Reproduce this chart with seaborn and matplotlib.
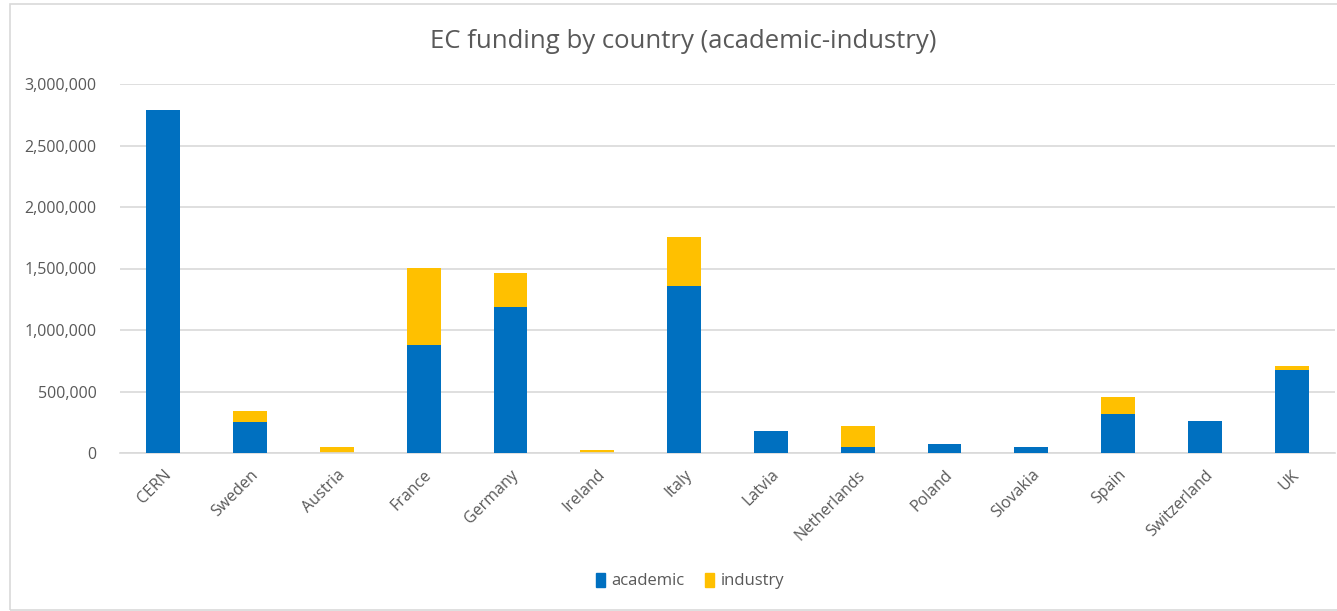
import matplotlib
matplotlib.use("Agg")
import matplotlib.pyplot as plt
import seaborn as sns
import pandas as pd
from matplotlib.patches import Patch, Rectangle
from matplotlib.ticker import FuncFormatter

countries = ["CERN", "Sweden", "Austria", "France", "Germany", "Ireland", "Italy",
             "Latvia", "Netherlands", "Poland", "Slovakia", "Spain", "Switzerland", "UK"]
academic = [2790000, 255000, 0, 875000, 1187000, 0, 1355000,
            179000, 46000, 70000, 51000, 320000, 261000, 673000]
industry = [0, 90000, 46000, 633000, 277000, 27000, 400000,
            0, 176000, 0, 0, 139000, 0, 36000]

BLUE = "#0070C0"
YELLOW = "#FFC000"
GRAY = "#595959"

df = pd.DataFrame({"country": countries, "academic": academic, "industry": industry})
df["total"] = df["academic"] + df["industry"]

sns.set_theme(style="white")
plt.rcParams["font.family"] = ["Open Sans", "DejaVu Sans"]

fig = plt.figure(figsize=(13.37, 6.11), dpi=100)
ax = fig.add_axes([120 / 1337, 1 - 453 / 611, 1215 / 1337, 369 / 611])

sns.barplot(data=df, x="country", y="total", color=YELLOW, width=0.39,
            saturation=1, ax=ax, zorder=2, linewidth=0)
sns.barplot(data=df, x="country", y="academic", color=BLUE, width=0.39,
            saturation=1, ax=ax, zorder=3, linewidth=0)

ax.set_xlim(-0.5, len(countries) - 0.5)
ax.set_ylim(0, 3000000)
ax.set_yticks(range(0, 3000001, 500000))
ax.yaxis.set_major_formatter(FuncFormatter(lambda v, p: f"{int(v):,}"))
ax.grid(axis="y", color="#D9D9D9", linewidth=1.2, zorder=0)
ax.set_axisbelow(True)
for s in ["top", "right", "left"]:
    ax.spines[s].set_visible(False)
ax.spines["bottom"].set_color("#D9D9D9")
ax.spines["bottom"].set_linewidth(1.2)
ax.set_xlabel("")
ax.set_ylabel("")
ax.tick_params(axis="both", length=0, colors=GRAY, labelsize=11.5)
ax.tick_params(axis="y", pad=17)
plt.setp(ax.get_xticklabels(), rotation=45, ha="right", rotation_mode="anchor")
ax.tick_params(axis="x", pad=10)

fig.text(683 / 1337, 1 - 42 / 611, "EC funding by country (academic-industry)",
         ha="center", va="center", fontsize=18.5, color=GRAY)

handles = [Patch(color=BLUE, label="academic"), Patch(color=YELLOW, label="industry")]
fig.legend(handles=handles, loc="center", bbox_to_anchor=(690 / 1337, 1 - 581 / 611),
           ncol=2, frameon=False, fontsize=12, handlelength=0.55, handleheight=0.9,
           handletextpad=0.4, columnspacing=1.2, labelcolor=GRAY)

fig.patches.append(Rectangle((10 / 1337, 0.002), 1.1, 1 - 4 / 611 - 0.002,
                             transform=fig.transFigure, fill=False,
                             edgecolor="#D9D9D9", linewidth=1.2))

fig.savefig("out.png", dpi=100)
